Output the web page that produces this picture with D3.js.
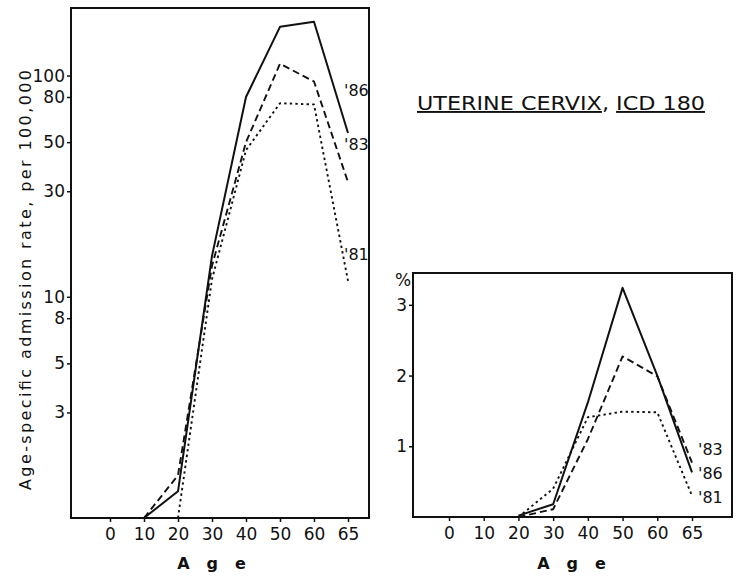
<!DOCTYPE html>
<html>
<head>
<meta charset="utf-8">
<script src="https://cdn.jsdelivr.net/npm/d3@7"></script>
<style>
  body { margin: 0; background: #fff; }
  svg text { font-family: "DejaVu Sans", sans-serif; fill: #111; }
</style>
</head>
<body>
<div id="chart"></div>
<script>
// ages on the x axis (equally spaced categories)
const ages = ["0", "10", "20", "30", "40", "50", "60", "65"];

// left panel: age-specific admission rate per 100,000 (log scale)
const rateAges = ["10", "20", "30", "40", "50", "60", "65"];
const rate86 = [1.0, 1.32, 15.3, 80, 166, 175, 55];
const rate83 = [1.0, 1.56, 13.8, 50, 113, 94, 33];
const rate81Ages = ["20", "30", "40", "50", "60", "65"];
const rate81 = [1.0, 12, 46, 75, 74, 11.8];
const rateTicks = [3, 5, 8, 10, 30, 50, 80, 100];

// right panel: percent of admissions
const pctAges = ["20", "30", "40", "50", "60", "65"];
const pct86 = [0.02, 0.18, 1.62, 3.24, 2.0, 0.63];
const pct83 = [0.0, 0.11, 1.1, 2.27, 1.99, 0.77];
const pct81 = [0.0, 0.4, 1.41, 1.49, 1.48, 0.3];
const pctTicks = [1, 2, 3];

const W = 744, H = 576;
const svg = d3.select("#chart").append("svg")
    .attr("width", W).attr("height", H)
    .attr("viewBox", `0 0 ${W} ${H}`);

const styles = {
    "86": { width: 2, dash: null },
    "83": { width: 1.9, dash: "7,4" },
    "81": { width: 1.9, dash: "2.4,3.2" }
};

function panel(opts) {
    const { x0, x1, y0, y1, y, xFirst, xLast } = opts;
    const x = d3.scalePoint().domain(ages).range([xFirst, xLast]);
    const g = svg.append("g");

    // frame
    g.append("rect")
        .attr("x", x0).attr("y", y0)
        .attr("width", x1 - x0).attr("height", y1 - y0)
        .attr("fill", "none").attr("stroke", "#111").attr("stroke-width", 2);

    // x axis ticks + labels
    const xAxis = d3.axisBottom(x).tickSize(4).tickPadding(6);
    const xa = g.append("g").attr("transform", `translate(0,${y1})`).call(xAxis);
    xa.select(".domain").remove();
    xa.selectAll("line").attr("stroke", "#111").attr("stroke-width", 1.5);
    xa.selectAll("text").attr("font-size", 17).attr("fill", "#111");

    // y axis
    const yAxis = d3.axisLeft(y).tickValues(opts.ticks).tickSize(4).tickPadding(2)
        .tickFormat(d3.format("d"));
    const ya = g.append("g").attr("transform", `translate(${x0},0)`).call(yAxis);
    ya.select(".domain").remove();
    ya.selectAll("line").attr("stroke", "#111").attr("stroke-width", 1.5);
    ya.selectAll("text").attr("font-size", 17).attr("fill", "#111");

    // "A g e"
    g.append("text")
        .attr("x", opts.titleX).attr("y", 569)
        .attr("text-anchor", "middle")
        .attr("font-size", 16).attr("font-weight", "bold")
        .attr("letter-spacing", 17)
        .text("Age");

    // lines
    const line = d3.line()
        .x(d => x(d[0]))
        .y(d => y(d[1]));
    opts.series.forEach(s => {
        const st = styles[s.name];
        g.append("path")
            .datum(d3.zip(s.ages, s.values))
            .attr("d", line)
            .attr("fill", "none")
            .attr("stroke", "#111")
            .attr("stroke-width", st.width)
            .attr("stroke-dasharray", st.dash)
            .attr("stroke-linejoin", "round");
        g.append("text")
            .attr("x", x("65") + opts.labelDx)
            .attr("y", y(s.labelAt))
            .attr("dy", "0.35em")
            .attr("font-size", 16)
            .text("'" + s.name);
    });
    return g;
}

// left panel
const yRate = d3.scaleLog().domain([1, 202]).range([518, 8]);
panel({
    x0: 71, x1: 369, y0: 8, y1: 518,
    xFirst: 110, xLast: 348, titleX: 220,
    y: yRate, ticks: rateTicks, labelDx: -4,
    series: [
        { name: "86", ages: rateAges, values: rate86, labelAt: 86 },
        { name: "83", ages: rateAges, values: rate83, labelAt: 49 },
        { name: "81", ages: rate81Ages, values: rate81, labelAt: 15.5 }
    ]
});

// y axis title for left panel
svg.append("text")
    .attr("transform", "translate(31,280) rotate(-90)")
    .attr("text-anchor", "middle")
    .attr("font-size", 16)
    .attr("textLength", 420)
    .attr("lengthAdjust", "spacing")
    .text("Age-specific admission rate, per 100,000");

// right panel
const yPct = d3.scaleLinear().domain([0, 3.45]).range([517, 273]);
panel({
    x0: 413, x1: 732, y0: 273, y1: 517,
    xFirst: 449, xLast: 692, titleX: 580,
    y: yPct, ticks: pctTicks, labelDx: 6,
    series: [
        { name: "86", ages: pctAges, values: pct86, labelAt: 0.61 },
        { name: "83", ages: pctAges, values: pct83, labelAt: 0.95 },
        { name: "81", ages: pctAges, values: pct81, labelAt: 0.28 }
    ]
});

svg.append("text")
    .attr("x", 403).attr("y", 286)
    .attr("text-anchor", "middle")
    .attr("font-size", 17)
    .text("%");

// title
const title = svg.append("text")
    .attr("x", 561).attr("y", 110)
    .attr("text-anchor", "middle")
    .attr("font-size", 19)
    .attr("textLength", 288)
    .attr("lengthAdjust", "spacingAndGlyphs");
title.append("tspan").style("text-decoration", "underline").text("UTERINE CERVIX");
title.append("tspan").text(", ");
title.append("tspan").style("text-decoration", "underline").text("ICD 180");
</script>
</body>
</html>
